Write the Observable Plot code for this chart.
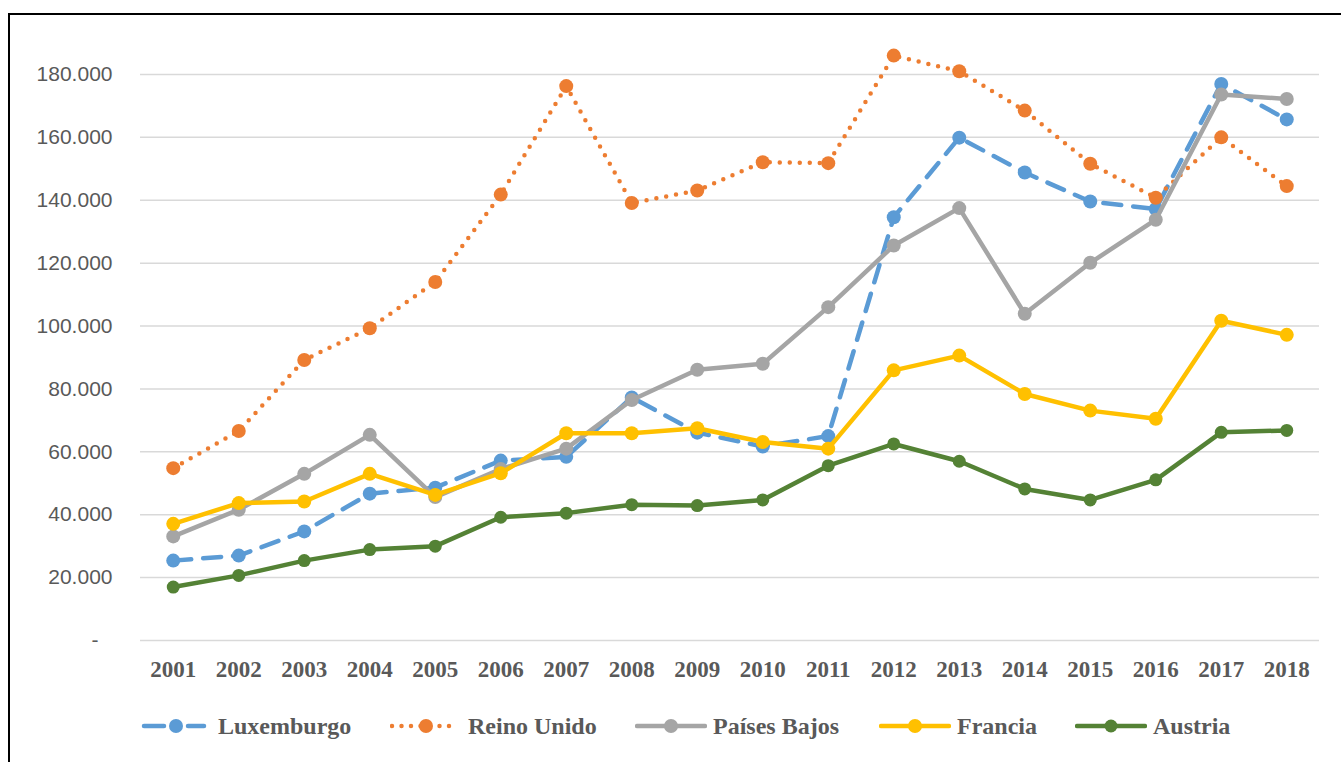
<!DOCTYPE html>
<html>
<head>
<meta charset="utf-8">
<script src="https://cdn.jsdelivr.net/npm/d3@7"></script>
<script src="https://cdn.jsdelivr.net/npm/@observablehq/plot@0.6"></script>
<style>
  html, body { margin: 0; padding: 0; background: #fff; width: 1341px; height: 762px; overflow: hidden; position: relative; }
  #frame { position: absolute; left: 8px; top: 13px; width: 1400px; height: 800px; border: 2px solid #000; box-sizing: border-box; pointer-events: none; }
  #chart { position: absolute; left: 0; top: 0; }
  #legend { position: absolute; left: 0; top: 710px; width: 1341px; height: 32px; font-family: "Liberation Serif", "Times New Roman", serif; font-weight: bold; font-size: 24px; color: #595959; white-space: nowrap; }
  .item { position: absolute; top: 0; display: flex; align-items: center; height: 32px; }
  .item svg { margin-right: 6px; }
</style>
</head>
<body>
<div id="chart"></div>
<div id="legend"></div>
<div id="frame"></div>
<script>
const years = [2001,2002,2003,2004,2005,2006,2007,2008,2009,2010,2011,2012,2013,2014,2015,2016,2017,2018];
const seriesNames = ["Luxemburgo", "Reino Unido", "Países Bajos", "Francia", "Austria"];
const luxemburgo = [25400,27000,34700,46700,48600,57200,58400,77300,66100,61700,65000,134600,159900,148800,139600,137200,177000,165700];
const reinoUnido = [54800,66600,89200,99300,114000,141800,176300,139100,143100,152100,151800,186000,181000,168500,151600,140800,160000,144500];
const paisesBajos = [33100,41600,53000,65400,45600,54500,61000,76500,86100,88000,106000,125600,137500,103900,120100,133800,173600,172200];
const francia = [37100,43700,44200,53000,46300,53200,65900,65900,67500,63100,61000,85900,90600,78400,73100,70500,101700,97200];
const austria = [17000,20700,25400,28900,30000,39200,40500,43200,42900,44700,55600,62500,57000,48200,44700,51100,66200,66800];
const yTicks = [0,20000,40000,60000,80000,100000,120000,140000,160000,180000];

const colors = ["#5B9BD5", "#ED7D31", "#A5A5A5", "#FFC000", "#548235"];
const dashes = ["18,12", "0,10", null, null, null];
const values = [luxemburgo, reinoUnido, paisesBajos, francia, austria];

const fmt = d => d === 0 ? "-" : d3.format(",")(d).replace(/,/g, ".");

const marks = [
  Plot.gridY(yTicks, {stroke: "#d9d9d9", strokeOpacity: 1, strokeWidth: 1.5}),
  Plot.axisY(yTicks.filter(d => d !== 0), {tickSize: 0, tickPadding: 28, tickFormat: fmt, fontSize: 21, fontFamily: "Liberation Sans, Arial, sans-serif", color: "#595959", label: null}),
  Plot.axisY(yTicks.filter(d => d === 0), {tickSize: 0, tickPadding: 42, tickFormat: fmt, fontSize: 21, fontFamily: "Liberation Sans, Arial, sans-serif", color: "#595959", label: null}),
  Plot.axisX(years, {tickSize: 0, tickPadding: 20, tickFormat: d => `${d}`, fontSize: 23, fontWeight: "bold", fontFamily: "Liberation Serif, Times New Roman, serif", color: "#595959", label: null})
];

seriesNames.forEach((name, i) => {
  const data = years.map((y, j) => ({year: y, value: values[i][j], series: name}));
  marks.push(Plot.line(data, {
    x: "year", y: "value", stroke: colors[i], strokeWidth: 4.5,
    strokeDasharray: dashes[i], strokeLinecap: dashes[i] ? "round" : "butt", strokeLinejoin: "round"
  }));
  marks.push(Plot.dot(data, {x: "year", y: "value", r: i === 4 ? 6.5 : 7, fill: colors[i], stroke: "none"}));
});

const chart = Plot.plot({
  width: 1341,
  height: 700,
  marginLeft: 140,
  marginRight: 22,
  marginTop: 42.5,
  marginBottom: 60,
  x: {type: "point", domain: years, padding: 0.5, round: false, axis: null},
  y: {domain: [0, 190000], axis: null},
  style: {background: "transparent", overflow: "visible"},
  marks
});
document.getElementById("chart").appendChild(chart);

// Legend
const legendLeft = [140, 390, 635, 879, 1075];
const legend = document.getElementById("legend");
seriesNames.forEach((name, i) => {
  const item = document.createElement("div");
  item.className = "item";
  item.style.left = legendLeft[i] + "px";
  const svg = d3.create("svg").attr("width", 72).attr("height", 20);
  const g = svg.append("g");
  if (i === 0) {
    g.append("line").attr("x1", 4).attr("x2", 24).attr("y1", 10).attr("y2", 10);
    g.append("line").attr("x1", 48).attr("x2", 64).attr("y1", 10).attr("y2", 10);
  } else if (i === 1) {
    g.append("line").attr("x1", 2).attr("x2", 68).attr("y1", 10).attr("y2", 10)
      .attr("stroke-dasharray", "0,9.5");
  } else {
    g.append("line").attr("x1", 2).attr("x2", 70).attr("y1", 10).attr("y2", 10);
  }
  g.selectAll("line").attr("stroke", colors[i]).attr("stroke-width", 4.5).attr("stroke-linecap", "round");
  svg.append("circle").attr("cx", 36).attr("cy", 10).attr("r", i === 4 ? 6.5 : 7).attr("fill", colors[i]);
  item.appendChild(svg.node());
  const t = document.createElement("span");
  t.textContent = name;
  item.appendChild(t);
  legend.appendChild(item);
});
</script>
</body>
</html>
